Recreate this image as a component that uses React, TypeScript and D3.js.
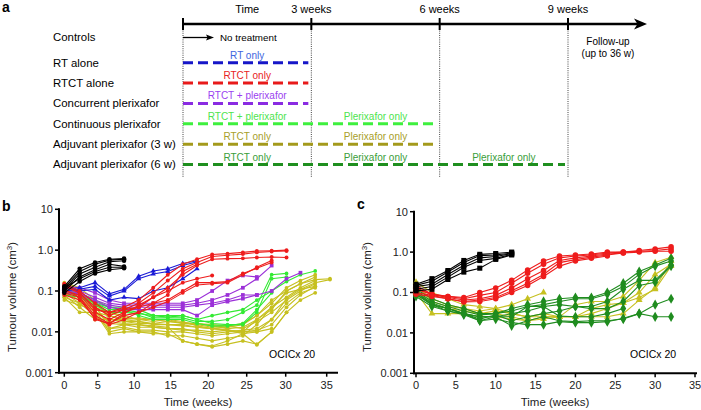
import React from 'react';
import * as d3 from 'd3';

// ---------- Panel a data ----------
const timelineTicks = [0, 3, 6, 9];
const timelineLabelWeeks = [1.5, 3, 6, 9];
const timelineLabels = ['Time', '3 weeks', '6 weeks', '9 weeks'];
const rowLabels = [
  'Controls',
  'RT alone',
  'RTCT alone',
  'Concurrent plerixafor',
  'Continuous plerixafor',
  'Adjuvant plerixafor (3 w)',
  'Adjuvant plerixafor (6 w)',
];
const rowEndWeek = [0, 3, 3, 3, 6, 6, 9];
const segRow = [1, 2, 3, 4, 4, 5, 5, 6, 6, 6];
const segStart = [0, 0, 0, 0, 3, 0, 3, 0, 3, 6];
const segEnd = [3, 3, 3, 3, 6, 3, 6, 3, 6, 9];
const segLabels = [
  'RT only', 'RTCT only', 'RTCT + plerixafor', 'RTCT + plerixafor', 'Plerixafor only',
  'RTCT only', 'Plerixafor only', 'RTCT only', 'Plerixafor only', 'Plerixafor only',
];

// ---------- Panel b data ----------
const bWeeks = [0, 2.3, 4.6, 6.6, 8.6, 10.6, 12.6, 14.6, 16.6, 18.5, 20.5, 22.5, 24.5, 26.3, 28.2, 30.1, 31.8, 33.6, 35.4];
const bTickWeeks = [0, 5, 10, 15, 20, 25, 30, 35];
const bControls = [
  [0.13, 0.35, 0.5, 0.6, 0.62],
  [0.12, 0.3, 0.45, 0.57, 0.6],
  [0.11, 0.26, 0.38, 0.52, 0.55],
  [0.1, 0.22, 0.33, 0.45, 0.4],
  [0.12, 0.2, 0.3, 0.38, 0.38],
  [0.09, 0.17, 0.27, 0.33, 0.36],
];
const bRT = [
  [0.11, 0.12, 0.16, 0.085, 0.11, 0.23, 0.31, 0.35, 0.47, 0.55],
  [0.1, 0.11, 0.13, 0.075, 0.1, 0.2, 0.26, 0.3, 0.42, 0.52],
  [0.12, 0.1, 0.11, 0.06, 0.07, 0.065, 0.1, 0.12, 0.2, 0.35],
];
const bRTCT = [
  [0.15, 0.1, 0.05, 0.03, 0.04, 0.06, 0.12, 0.25, 0.45, 0.6, 0.78, 0.82, 0.88, 0.95, 0.97, 1.0],
  [0.13, 0.09, 0.04, 0.025, 0.035, 0.05, 0.09, 0.18, 0.35, 0.5, 0.7, 0.75, 0.8, 0.88, 0.93, 0.95],
  [0.1, 0.08, 0.03, 0.02, 0.03, 0.04, 0.07, 0.12, 0.25, 0.42, 0.6, 0.62, 0.63, 0.66, 0.68, 0.66],
  [0.09, 0.07, 0.025, 0.016, 0.028, 0.045, 0.07, 0.1, 0.16, 0.2, 0.24],
  [0.08, 0.06, 0.022, 0.015, 0.02, 0.03, 0.05, 0.06, 0.1, 0.16, 0.16, 0.17, 0.27, 0.36, 0.5],
  [0.11, 0.07, 0.02, 0.016, 0.025, 0.03, 0.04, 0.055, 0.09, 0.14, 0.15, 0.16, 0.25, 0.38, 0.56],
  [0.14, 0.09, 0.035, 0.03, 0.035, 0.04, 0.05, 0.08, 0.3, 0.45],
];
const bConcurrent = [
  [0.13, 0.12, 0.09, 0.06, 0.05, 0.05, 0.05, 0.05, 0.05, 0.06, 0.1, 0.18, 0.24, 0.22],
  [0.1, 0.1, 0.07, 0.05, 0.045, 0.045, 0.045, 0.045, 0.045, 0.05, 0.06, 0.08, 0.12, 0.2, 0.42],
  [0.1, 0.09, 0.06, 0.045, 0.04, 0.04, 0.04, 0.04, 0.04, 0.045, 0.05, 0.06, 0.08, 0.08, 0.1, 0.2, 0.28],
  [0.09, 0.085, 0.055, 0.04, 0.035, 0.035, 0.035, 0.035, 0.035, 0.025, 0.045, 0.055, 0.065, 0.08],
];
const bContinuous = [
  [0.1, 0.09, 0.06, 0.04, 0.04, 0.035, 0.025, 0.023, 0.025, 0.02, 0.016, 0.015, 0.015, 0.03, 0.2, 0.22],
  [0.09, 0.08, 0.05, 0.035, 0.035, 0.03, 0.022, 0.022, 0.022, 0.018, 0.018, 0.02, 0.03, 0.045, 0.25, 0.27],
  [0.08, 0.07, 0.045, 0.03, 0.03, 0.028, 0.025, 0.025, 0.025, 0.02, 0.025, 0.03, 0.035, 0.06, 0.1, 0.17, 0.25, 0.31],
  [0.11, 0.08, 0.05, 0.04, 0.035, 0.025, 0.02, 0.02, 0.02, 0.016, 0.014, 0.014, 0.016, 0.035, 0.09],
];
const bAdjuvant = [
  [0.16, 0.12, 0.06, 0.02, 0.018, 0.018, 0.016, 0.015, 0.014, 0.013, 0.012, 0.013, 0.015, 0.025, 0.05, 0.12, 0.18, 0.25],
  [0.15, 0.1, 0.04, 0.016, 0.015, 0.015, 0.013, 0.012, 0.011, 0.011, 0.01, 0.011, 0.01, 0.02, 0.035, 0.1, 0.15, 0.19, 0.2],
  [0.12, 0.08, 0.035, 0.01, 0.012, 0.01, 0.01, 0.008, 0.008, 0.007, 0.006, 0.007, 0.008, 0.015, 0.04, 0.07, 0.12, 0.18],
  [0.1, 0.07, 0.03, 0.009, 0.01, 0.01, 0.009, 0.009, 0.006, 0.005, 0.0043, 0.005, 0.006, 0.005, 0.01, 0.03, 0.06, 0.09],
  [0.09, 0.05, 0.025, 0.012, 0.015, 0.013, 0.013, 0.012, 0.012, 0.01, 0.009, 0.01, 0.011, 0.012, 0.02, 0.05, 0.09, 0.12],
  [0.08, 0.04, 0.02, 0.02, 0.02, 0.018, 0.015, 0.015, 0.015, 0.013, 0.012, 0.011, 0.009, 0.01, 0.012],
  [0.07, 0.03, 0.03, 0.025, 0.02, 0.022, 0.02, 0.018, 0.017, 0.016, 0.015, 0.014, 0.012, 0.018, 0.03, 0.06, 0.1, 0.15],
  [0.06, 0.045, 0.035, 0.03, 0.022, 0.02, 0.018, 0.02, 0.018, 0.014, 0.012, 0.011, 0.01, 0.011, 0.015, 0.04, 0.08, 0.13],
  [0.11, 0.09, 0.05, 0.025, 0.018, 0.016, 0.016, 0.018, 0.016, 0.015, 0.013, 0.014, 0.016, 0.025, 0.06, 0.1, 0.15, 0.22],
  [0.14, 0.1, 0.045, 0.012, 0.013, 0.011, 0.011, 0.01, 0.01, 0.009, 0.008, 0.009, 0.01, 0.01, 0.02, 0.065, 0.11, 0.13],
  [0.07, 0.05, 0.04, 0.03, 0.025, 0.02, 0.02, 0.02, 0.016, 0.016, 0.014, 0.012, 0.013, 0.02, 0.04, 0.09, 0.11, 0.16, 0.19],
  [0.09, 0.06, 0.03, 0.018, 0.016, 0.015, 0.014, 0.013, 0.006, 0.005, 0.0045, 0.006, 0.009, 0.0048, 0.01, 0.03],
];

// ---------- Panel c data ----------
const cWeeks = [0, 2, 4, 6, 8, 10, 12, 14, 16, 18, 20, 22, 24, 26, 28, 30, 32];
const cTickWeeks = [0, 5, 10, 15, 20, 25, 30, 35];
const cControls = [
  [0.16, 0.22, 0.35, 0.62, 0.88, 0.92, 1.0],
  [0.15, 0.19, 0.32, 0.55, 0.82, 0.85, 0.95],
  [0.14, 0.16, 0.28, 0.47, 0.72, 0.78, 0.92],
  [0.12, 0.14, 0.24, 0.42, 0.62, 0.7, 0.88],
  [0.11, 0.12, 0.21, 0.32, 0.4, 0.66, 0.85],
];
const cRTCT = [
  [0.15, 0.09, 0.08, 0.075, 0.1, 0.13, 0.2, 0.36, 0.6, 0.8, 0.85, 0.9, 1.0, 1.0, 1.1, 1.2, 1.35],
  [0.13, 0.09, 0.08, 0.07, 0.085, 0.1, 0.17, 0.3, 0.5, 0.72, 0.8, 0.85, 0.95, 1.0, 1.05, 1.1, 1.2],
  [0.12, 0.09, 0.075, 0.065, 0.07, 0.085, 0.13, 0.22, 0.35, 0.62, 0.72, 0.8, 0.9, 0.95, 1.0, 1.05, 1.05],
  [0.1, 0.085, 0.07, 0.06, 0.065, 0.075, 0.11, 0.17, 0.28, 0.55, 0.65, 0.75, 0.85, 0.95],
  [0.09, 0.08, 0.07, 0.058, 0.06, 0.07, 0.1, 0.15, 0.25, 0.45, 0.6, 0.7, 0.8],
];
const cAdjuvant3 = [
  [0.18, 0.1, 0.07, 0.05, 0.045, 0.04, 0.05, 0.07, 0.1],
  [0.15, 0.06, 0.045, 0.04, 0.035, 0.04, 0.03, 0.025, 0.025, 0.025, 0.05, 0.06, 0.06, 0.08, 0.2, 0.55, 0.75],
  [0.12, 0.05, 0.04, 0.035, 0.03, 0.03, 0.025, 0.02, 0.022, 0.025, 0.025, 0.03, 0.04, 0.055, 0.1, 0.28, 0.5],
  [0.1, 0.03, 0.03, 0.03, 0.025, 0.025, 0.022, 0.02, 0.025, 0.025, 0.025, 0.025, 0.025, 0.03, 0.065, 0.13, 0.6],
  [0.14, 0.07, 0.05, 0.04, 0.03, 0.035, 0.03, 0.025, 0.03, 0.025, 0.025, 0.04, 0.05, 0.055, 0.075, 0.12, 0.45],
];
const cAdjuvant6 = [
  [0.12, 0.07, 0.05, 0.04, 0.03, 0.03, 0.04, 0.05, 0.06, 0.07, 0.075, 0.075, 0.1, 0.17, 0.33, 0.48, 0.7],
  [0.11, 0.06, 0.045, 0.035, 0.028, 0.03, 0.035, 0.045, 0.05, 0.06, 0.07, 0.07, 0.09, 0.14, 0.28, 0.45, 0.6],
  [0.1, 0.055, 0.04, 0.03, 0.025, 0.025, 0.03, 0.035, 0.045, 0.05, 0.045, 0.045, 0.06, 0.12, 0.2, 0.2, 0.48],
  [0.09, 0.05, 0.04, 0.03, 0.022, 0.028, 0.02, 0.025, 0.03, 0.035, 0.045, 0.04, 0.04, 0.06, 0.15, 0.18, 0.45],
  [0.1, 0.05, 0.035, 0.03, 0.02, 0.025, 0.015, 0.02, 0.025, 0.02, 0.019, 0.02, 0.02, 0.022, 0.03, 0.05, 0.07],
  [0.08, 0.045, 0.035, 0.028, 0.02, 0.022, 0.018, 0.016, 0.016, 0.019, 0.018, 0.018, 0.019, 0.023, 0.03, 0.025, 0.025],
  [0.09, 0.05, 0.04, 0.03, 0.025, 0.025, 0.025, 0.045, 0.045, 0.026, 0.025, 0.025, 0.03, 0.04],
];

const yTickValues = [10, 1, 0.1, 0.01, 0.001];
const yTickLabels = ['10', '1.0', '0.1', '0.01', '0.001'];

// ---------- styles ----------
const FONT = 'Liberation Sans, Arial, Helvetica, sans-serif';
const rowDashColor = ['#000', '#1616c8', '#e81a1a', '#8a2be2', '#3ef03e', '#a49a1c', '#1f8f1f'];
const segLabelColor = ['#3d66e0', '#e82222', '#9b3ff0', '#4ee44e', '#a8a02a', '#3a9e3a'];
const C = {
  black: '#000000',
  blue: '#1a1ad6',
  red: '#ee1c1c',
  purple: '#9b30d8',
  green: '#33ea33',
  yellow: '#c6c020',
  dkgreen: '#1f8c1f',
};

function Series({ weeks, groups, x, y, color, marker, size }: any) {
  const line = d3
    .line<number>()
    .x((_, i) => x(weeks[i]))
    .y((v) => y(v));
  const symType: any =
    marker === 'square' ? d3.symbolSquare : marker === 'triangle' ? d3.symbolTriangle : marker === 'diamond' ? d3.symbolDiamond : d3.symbolCircle;
  const sym = d3.symbol().type(symType).size(size)();
  return (
    <g>
      {groups.map((vals: number[], gi: number) => (
        <g key={gi}>
          <path d={line(vals) || ''} fill="none" stroke={color} strokeWidth={1.1} />
          {vals.map((v, i) => (
            <path key={i} d={sym || ''} transform={`translate(${x(weeks[i])},${y(v)})`} fill={color} />
          ))}
        </g>
      ))}
    </g>
  );
}

function Axes({ x, y, ticks, xStart, xEnd, titleX, titleY, xLabelX }: any) {
  const y0 = y(0.001);
  return (
    <g fontFamily={FONT} fill="#222">
      <line x1={xStart} x2={xStart} y1={y(10) - 1} y2={y0 + 1} stroke="#000" strokeWidth={2} />
      <line x1={xStart - 1} x2={xEnd} y1={y0} y2={y0} stroke="#000" strokeWidth={2} />
      {yTickValues.map((v, i) => (
        <g key={v}>
          <line x1={xStart - 4} x2={xStart} y1={y(v)} y2={y(v)} stroke="#000" strokeWidth={1.5} />
          <text x={xStart - 6} y={y(v)} dy="0.35em" textAnchor="end" fontSize={11}>
            {yTickLabels[i]}
          </text>
        </g>
      ))}
      {ticks.map((t: number) => (
        <g key={t}>
          <line x1={x(t)} x2={x(t)} y1={y0} y2={y0 + 4} stroke="#000" strokeWidth={1.5} />
          <text x={x(t)} y={389} textAnchor="middle" fontSize={11}>
            {t}
          </text>
        </g>
      ))}
      <text x={xLabelX} y={405.5} textAnchor="middle" fontSize={11.5}>
        Time (weeks)
      </text>
      <text transform={`translate(${titleX},${titleY}) rotate(-90)`} textAnchor="middle" fontSize={11.5}>
        Tumour volume (cm
        <tspan dy={-4} fontSize={8}>
          3
        </tspan>
        <tspan dy={4}>)</tspan>
      </text>
    </g>
  );
}

export default function App() {
  // panel a
  const xT = d3.scaleLinear().domain([0, 9]).range([183, 568]);
  const rowY = d3.scaleLinear().domain([1, 6]).range([62.7, 164.5]);
  const rowPos = (i: number) => (i === 0 ? 37.5 : rowY(i));

  // panel b
  const xb = d3.scaleLinear().domain(bTickWeeks).range([64.3, 97.7, 134.3, 170.7, 208.3, 246.7, 285.7, 326.7]);
  const yb = d3.scaleLog().domain([0.001, 10]).range([372.7, 209.3]);
  // panel c
  const xc = d3.scaleLinear().domain([0, 35]).range([416, 695]);
  const yc = d3.scaleLog().domain([0.001, 10]).range([373.3, 211.7]);

  return (
    <svg width={701} height={410} style={{ position: 'absolute', left: 0, top: 0, background: '#fff' }} fontFamily={FONT}>
      <rect width={701} height={410} fill="#fff" />
      {/* ---------- Panel a ---------- */}
      <text x={2} y={12} fontSize={14} fontWeight="bold">a</text>
      {timelineTicks.map((t) => (
        <line key={'dv' + t} x1={xT(t)} x2={xT(t)} y1={24} y2={178} stroke="#444" strokeWidth={1} strokeDasharray="1,1.2" />
      ))}
      <line x1={xT(0)} x2={640} y1={24} y2={24} stroke="#000" strokeWidth={2.5} />
      <path d="M647,24 L634,18.5 L637.5,24 L634,29.5 Z" fill="#000" />
      {timelineTicks.map((t) => (
        <line key={'tk' + t} x1={xT(t)} x2={xT(t)} y1={18} y2={30} stroke="#000" strokeWidth={2} />
      ))}
      {timelineLabels.map((l, i) => (
        <text key={l} x={xT(timelineLabelWeeks[i])} y={12.5} textAnchor="middle" fontSize={11}>
          {l}
        </text>
      ))}
      <text x={608} y={45} textAnchor="middle" fontSize={10}>Follow-up</text>
      <text x={608} y={57} textAnchor="middle" fontSize={10}>(up to 36 w)</text>
      {rowLabels.map((l, i) => (
        <text key={l} x={53} y={rowPos(i)} dy="0.35em" fontSize={11.4}>
          {l}
        </text>
      ))}
      {/* controls arrow */}
      <line x1={xT(0)} x2={208} y1={37.5} y2={37.5} stroke="#000" strokeWidth={1.3} />
      <path d="M214,37.5 L206,34.5 L207.5,37.5 L206,40.5 Z" fill="#000" />
      <text x={220} y={37.5} dy="0.35em" fontSize={9.8}>No treatment</text>
      {rowLabels.map((_, i) =>
        i === 0 ? null : (
          <line
            key={'dash' + i}
            x1={xT(0)}
            x2={xT(rowEndWeek[i]) - 3}
            y1={rowPos(i)}
            y2={rowPos(i)}
            stroke={rowDashColor[i]}
            strokeWidth={3}
            strokeDasharray="10,5"
          />
        )
      )}
      {segLabels.map((l, k) => (
        <text
          key={'sl' + k}
          x={xT((segStart[k] + segEnd[k]) / 2)}
          y={rowPos(segRow[k]) - 4}
          textAnchor="middle"
          fontSize={10}
          fill={segLabelColor[segRow[k] - 1]}
        >
          {l}
        </text>
      ))}

      {/* ---------- Panel b ---------- */}
      <text x={2} y={211} fontSize={14} fontWeight="bold">b</text>
      <Axes x={xb} y={yb} ticks={bTickWeeks} xStart={59} xEnd={338} titleX={16} titleY={297} xLabelX={198} />
      <Series weeks={bWeeks} groups={bAdjuvant} x={xb} y={yb} color={C.yellow} marker="circle" size={11} />
      <Series weeks={bWeeks} groups={bContinuous} x={xb} y={yb} color={C.green} marker="circle" size={11} />
      <Series weeks={bWeeks} groups={bConcurrent} x={xb} y={yb} color={C.purple} marker="square" size={14} />
      <Series weeks={bWeeks} groups={bRT} x={xb} y={yb} color={C.blue} marker="triangle" size={12} />
      <Series weeks={bWeeks} groups={bRTCT} x={xb} y={yb} color={C.red} marker="circle" size={12} />
      <Series weeks={bWeeks} groups={bControls} x={xb} y={yb} color={C.black} marker="circle" size={16} />
      <text x={269} y={358} fontSize={10.5} fontFamily={FONT}>OCICx 20</text>

      {/* ---------- Panel c ---------- */}
      <text x={357} y={209} fontSize={14} fontWeight="bold">c</text>
      <Axes x={xc} y={yc} ticks={cTickWeeks} xStart={414} xEnd={697} titleX={371} titleY={297} xLabelX={555} />
      <Series weeks={cWeeks} groups={cAdjuvant3} x={xc} y={yc} color={C.yellow} marker="triangle" size={20} />
      <Series weeks={cWeeks} groups={cAdjuvant6} x={xc} y={yc} color={C.dkgreen} marker="diamond" size={30} />
      <Series weeks={cWeeks} groups={cRTCT} x={xc} y={yc} color={C.red} marker="circle" size={24} />
      <Series weeks={cWeeks} groups={cControls} x={xc} y={yc} color={C.black} marker="square" size={26} />
      <text x={630} y={358} fontSize={10.5} fontFamily={FONT}>OCICx 20</text>
    </svg>
  );
}
